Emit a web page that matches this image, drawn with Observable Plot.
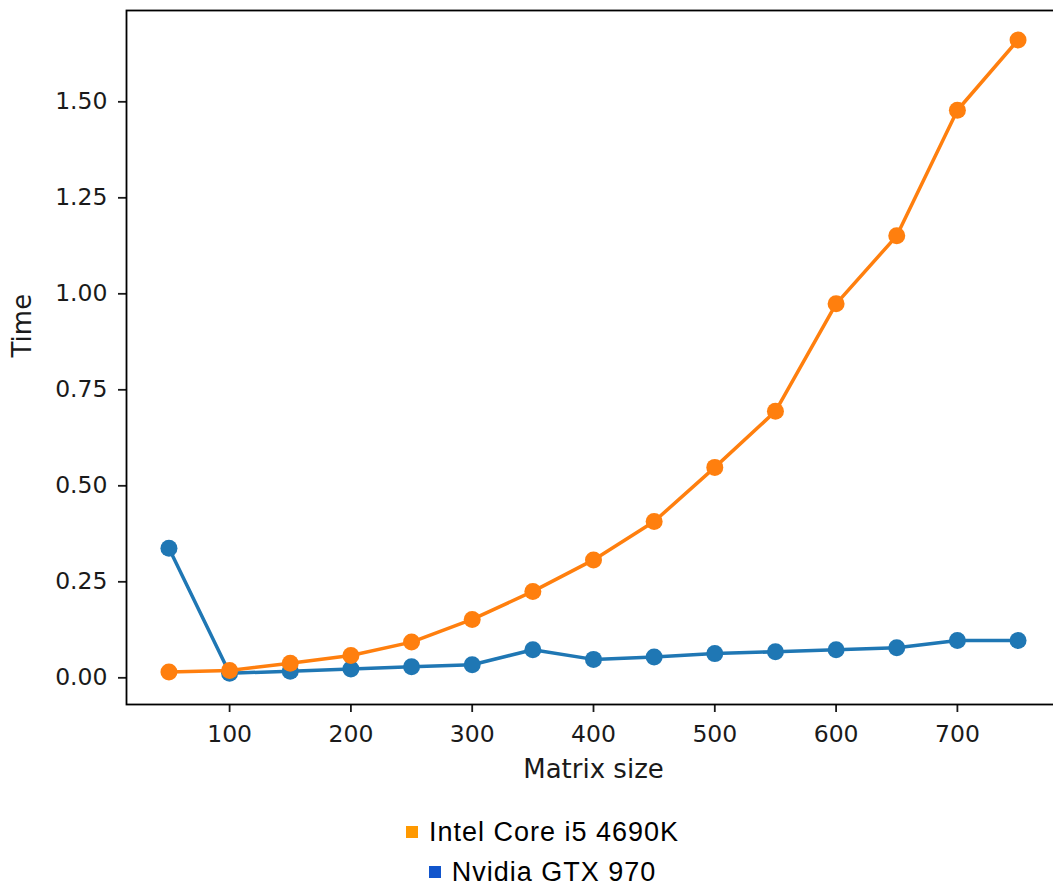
<!DOCTYPE html>
<html>
<head>
<meta charset="utf-8">
<script src="https://cdn.jsdelivr.net/npm/d3@7"></script>
<script src="https://cdn.jsdelivr.net/npm/@observablehq/plot@0.6"></script>
<style>
  html, body { margin: 0; padding: 0; overflow: hidden; background: #fff; }
  #chart { width: 1060px; }
  #chart svg { display: block; max-width: none !important; width: 1060px; height: 790px; }
  .legend { width: 1053px; margin-top: 22px; padding-left: 32px; box-sizing: border-box; text-align: center; font-family: "Liberation Sans", Arial, sans-serif; font-size: 27px; letter-spacing: 1px; color: #000; }
  .legend .row { line-height: 40px; height: 40px; white-space: nowrap; }
  .legend .sw { display: inline-block; width: 12px; height: 12px; margin-right: 11px; vertical-align: middle; position: relative; top: -2px; }
</style>
</head>
<body>
<div id="chart"></div>
<div class="legend" id="legend"></div>
<script>
const sizes = [50, 100, 150, 200, 250, 300, 350, 400, 450, 500, 550, 600, 650, 700, 750];
const intel = [0.015, 0.019, 0.038, 0.058, 0.093, 0.152, 0.225, 0.307, 0.407, 0.548, 0.694, 0.974, 1.151, 1.478, 1.661];
const nvidia = [0.3375, 0.012, 0.017, 0.023, 0.029, 0.034, 0.073, 0.048, 0.054, 0.063, 0.068, 0.073, 0.078, 0.097, 0.097];
const seriesNames = ["Intel Core i5 4690K", "Nvidia GTX 970"];
const lineColors = ["#ff7f0e", "#1f77b4"];
const legendColors = ["#ff9900", "#1155cc"];
const xTicks = [100, 200, 300, 400, 500, 600, 700];
const yTicks = [0, 0.25, 0.5, 0.75, 1.0, 1.25, 1.5];
const xLabel = "Matrix size";
const yLabel = "Time";

const intelData = sizes.map((s, i) => ({size: s, time: intel[i]}));
const nvidiaData = sizes.map((s, i) => ({size: s, time: nvidia[i]}));

const chart = Plot.plot({
  width: 1060,
  height: 790,
  marginLeft: 126,
  marginRight: 0,
  marginTop: 10,
  marginBottom: 86,
  style: {fontFamily: "'DejaVu Sans', sans-serif", fontSize: "23.5px", color: "#1a1a1a", background: "#fff", maxWidth: "none"},
  x: {domain: [15, 785]},
  y: {domain: [-0.0695, 1.7378]},
  marks: [
    Plot.line(nvidiaData, {x: "size", y: "time", stroke: lineColors[1], strokeWidth: 3.5}),
    Plot.dot(nvidiaData, {x: "size", y: "time", fill: lineColors[1], r: 8.5}),
    Plot.line(intelData, {x: "size", y: "time", stroke: lineColors[0], strokeWidth: 3.5}),
    Plot.dot(intelData, {x: "size", y: "time", fill: lineColors[0], r: 8.5}),
    Plot.axisX({ticks: xTicks, tickSize: 8, tickPadding: 13, strokeWidth: 1.8, label: null, fontSize: 23.5, tickFormat: d3.format("d")}),
    Plot.axisY({ticks: yTicks, tickSize: 8, tickPadding: 11, strokeWidth: 1.8, label: null, fontSize: 23.5, tickFormat: d3.format(".2f")}),
    Plot.frame({stroke: "#000", strokeWidth: 1.8}),
    Plot.text([xLabel], {text: d => d, frameAnchor: "bottom", dy: 73, fontSize: 26}),
    Plot.text([yLabel], {text: d => d, frameAnchor: "left", dx: -104, rotate: -90, fontSize: 26})
  ]
});
document.getElementById("chart").appendChild(chart);

const legend = document.getElementById("legend");
seriesNames.forEach((name, i) => {
  const row = document.createElement("div");
  row.className = "row";
  const sw = document.createElement("span");
  sw.className = "sw";
  sw.style.background = legendColors[i];
  row.appendChild(sw);
  row.appendChild(document.createTextNode(name));
  legend.appendChild(row);
});
</script>
</body>
</html>
